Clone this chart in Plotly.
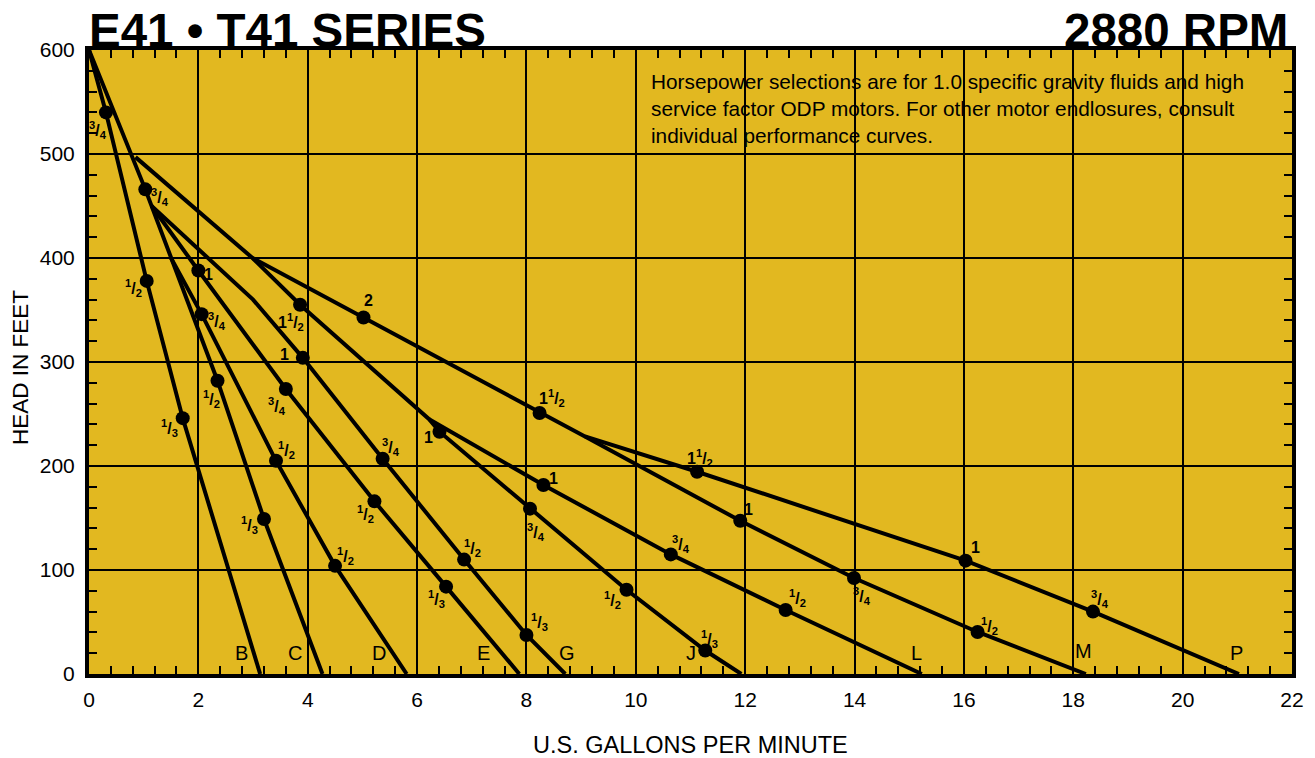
import plotly.graph_objects as go

# ---------------- data ----------------
X_TICKS = list(range(0, 23, 2))
Y_TICKS = list(range(0, 601, 100))

B_gpm = [0, 0.31, 1.055, 1.714, 3.13]
B_head = [600, 540, 378, 246, 0]
B_hp = ["", "3/4", "1/2", "1/3", ""]

C_gpm = [0, 1.03, 2.35, 3.20, 4.27]
C_head = [600, 466, 282, 149, 0]
C_hp = ["", "3/4", "1/2", "1/3", ""]

D_gpm = [1.50, 2.06, 3.42, 4.50, 5.81]
D_head = [400, 346, 205, 104, 0]
D_hp = ["", "3/4", "1/2", "1/2", ""]

E_gpm = [1.145, 2.00, 3.60, 5.22, 6.53, 7.87]
E_head = [450, 388, 274, 166, 84, 0]
E_hp = ["", "1", "3/4", "1/2", "1/3", ""]

G_gpm = [1.145, 3.00, 3.91, 5.37, 6.86, 8.00, 8.71]
G_head = [450, 360, 304, 207, 110, 37.5, 0]
G_hp = ["", "", "1", "3/4", "1/2", "1/3", ""]

J_gpm = [0.85, 2.99, 3.86, 6.22, 6.41, 8.065, 9.83, 11.27, 11.93]
J_head = [497, 400, 355, 245, 233, 159, 81, 22.6, 0]
J_hp = ["", "", "1 1/2", "", "1", "3/4", "1/2", "1/3", ""]

L_gpm = [6.22, 8.31, 10.64, 12.74, 15.23]
L_head = [245, 181.7, 115, 61.5, 0]
L_hp = ["", "1", "3/4", "1/2", ""]

M_gpm = [2.99, 5.02, 8.24, 9.07, 11.91, 13.99, 16.25, 18.23]
M_head = [400, 342.8, 251, 228.4, 147.3, 92.3, 40.4, 0]
M_hp = ["", "2", "1 1/2", "", "1", "3/4", "1/2", ""]

P_gpm = [9.07, 11.12, 16.03, 18.36, 21.03]
P_head = [228.4, 194.5, 109, 60, 0]
P_hp = ["", "1 1/2", "1", "3/4", ""]

MODELS = ["B", "C", "D", "E", "G", "J", "L", "M", "P"]
MODEL_LABEL_GPM = [2.79, 3.77, 5.30, 7.21, 8.74, 11.01, 15.14, 18.18, 20.99]
MODEL_LABEL_HEAD = [20, 20, 20, 20, 20, 20, 20, 22, 20]

TITLE_LEFT = "E41 • T41 SERIES"
TITLE_RIGHT = "2880 RPM"
NOTE = ("Horsepower selections are for 1.0 specific gravity fluids and high<br>"
        "service factor ODP motors. For other motor endlosures, consult<br>"
        "individual performance curves.")
X_TITLE = "U.S. GALLONS PER MINUTE"
Y_TITLE = "HEAD IN FEET"

# ---------------- label offsets (pixels, style only) ----------------
B_off = [(0, 0), (-8, -18), (-13, -7), (-13, -10), (0, 0)]
C_off = [(0, 0), (15, -8), (-6, -18), (-14, -6), (0, 0)]
D_off = [(0, 0), (15, -7), (10, 11), (10, 10), (0, 0)]
E_off = [(0, 0), (10, -4), (-9, -17), (-9, -13), (-10, -12), (0, 0)]
G_off = [(0, 0), (0, 0), (-18, 3), (8, 12), (8, 12), (13, 13), (0, 0)]
J_off = [(0, 0), (0, 0), (-9, -17), (0, 0), (-11, -6), (6, -23), (-14, -10), (4, 12), (0, 0)]
L_off = [(0, 0), (10, 7), (10, 10), (12, 12), (0, 0)]
M_off = [(0, 0), (5, 17), (12, 15), (0, 0), (8, 11), (8, -18), (12, 6), (0, 0)]
P_off = [(0, 0), (3, 14), (10, 13), (7, 13), (0, 0)]

GOLD = "rgb(226,184,32)"
FONT = "Liberation Sans, Arial, Helvetica, sans-serif"

curves = [
    (B_gpm, B_head, B_hp, B_off),
    (C_gpm, C_head, C_hp, C_off),
    (D_gpm, D_head, D_hp, D_off),
    (E_gpm, E_head, E_hp, E_off),
    (G_gpm, G_head, G_hp, G_off),
    (J_gpm, J_head, J_hp, J_off),
    (L_gpm, L_head, L_hp, L_off),
    (M_gpm, M_head, M_hp, M_off),
    (P_gpm, P_head, P_hp, P_off),
]


def hp_html(s):
    if s == "1 1/2":
        return "1<sup>1</sup>/<sub>2</sub>"
    if "/" in s:
        a, b = s.split("/")
        return "<sup>%s</sup>/<sub>%s</sub>" % (a, b)
    return s


fig = go.Figure()
annotations = []

for gpm, head, hp, off in curves:
    fig.add_trace(go.Scatter(x=gpm, y=head, mode="lines",
                             line=dict(color="black", width=4),
                             hoverinfo="skip", showlegend=False))
    dx = [g for g, h in zip(gpm, hp) if h]
    dy = [v for v, h in zip(head, hp) if h]
    fig.add_trace(go.Scatter(x=dx, y=dy, mode="markers",
                             marker=dict(color="black", size=14),
                             showlegend=False))
    for g, v, h, o in zip(gpm, head, hp, off):
        if not h:
            continue
        annotations.append(dict(
            x=g, y=v, xref="x", yref="y", text="<b>%s</b>" % hp_html(h),
            showarrow=False, xanchor="center", yanchor="middle",
            xshift=o[0], yshift=o[1],
            font=dict(family=FONT, size=16, color="black")))

for name, gx, gy in zip(MODELS, MODEL_LABEL_GPM, MODEL_LABEL_HEAD):
    annotations.append(dict(
        x=gx, y=gy, xref="x", yref="y", text=name, showarrow=False,
        xanchor="center", yanchor="middle",
        font=dict(family=FONT, size=20, color="black")))

annotations += [
    dict(x=0, y=1, xref="paper", yref="paper", text="<b>%s</b>" % TITLE_LEFT,
         showarrow=False, xanchor="left", yanchor="bottom", xshift=-2, yshift=-9,
         font=dict(family=FONT, size=47.5, color="black")),
    dict(x=1, y=1, xref="paper", yref="paper", text="<b>%s</b>" % TITLE_RIGHT,
         showarrow=False, xanchor="right", yanchor="bottom", xshift=-2, yshift=-9,
         font=dict(family=FONT, size=47.5, color="black")),
    dict(x=10.25, y=583, xref="x", yref="y", text=NOTE, showarrow=False,
         xanchor="left", yanchor="top", align="left",
         font=dict(family=FONT, size=20.8, color="black")),
    dict(x=0.5, y=0, xref="paper", yref="paper", text=X_TITLE, showarrow=False,
         xanchor="center", yanchor="middle", yshift=-71,
         font=dict(family=FONT, size=23.5, color="black")),
    dict(x=0, y=0.5, xref="paper", yref="paper", text=Y_TITLE, showarrow=False,
         xanchor="center", yanchor="middle", xshift=-69, yshift=-6, textangle=-90,
         font=dict(family=FONT, size=22.5, color="black")),
]

axis_common = dict(
    showline=True, linewidth=4, linecolor="black", mirror="allticks",
    showgrid=True, gridcolor="black", gridwidth=2, zeroline=False,
    ticks="inside", ticklen=8, tickwidth=2, tickcolor="black",
    tickfont=dict(family=FONT, size=21, color="black"),
)

# page body has an 8px margin; size/margins compensate so the plot area
# lands where it is in the reference
fig.update_layout(
    width=1307, height=750,
    margin=dict(l=81, r=23, t=42, b=84),
    paper_bgcolor="white", plot_bgcolor=GOLD,
    showlegend=False,
    annotations=annotations,
    xaxis=dict(range=[0, 22], tickvals=X_TICKS,
               minor=dict(dtick=0.4, tick0=0, ticks="inside", ticklen=8,
                          tickwidth=2, tickcolor="black", showgrid=False),
               ticklabelstandoff=4, **axis_common),
    yaxis=dict(range=[0, 600], tickvals=Y_TICKS,
               minor=dict(dtick=20, tick0=0, ticks="inside", ticklen=8,
                          tickwidth=2, tickcolor="black", showgrid=False),
               ticklabelstandoff=6, **axis_common),
)

fig.write_html("out.html")
